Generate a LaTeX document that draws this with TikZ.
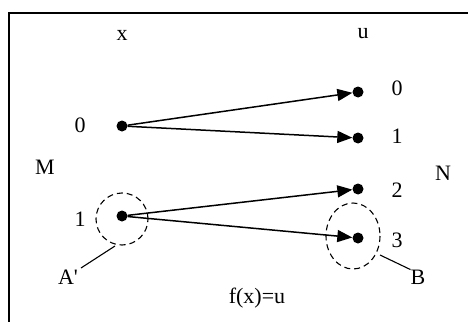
\documentclass[tikz,border=0pt]{standalone}
\usepackage{fontspec}
\setmainfont{Liberation Serif}
\usetikzlibrary{arrows.meta}
\begin{document}
\begin{tikzpicture}[x=1pt,y=-1pt,
  lbl/.style={inner sep=0pt,font=\fontsize{22}{24}\selectfont},
  pt/.style={circle,fill=black,inner sep=0pt,minimum size=11pt},
  map/.style={line width=1.5pt,-{Triangle[length=15pt,width=12pt]}},
  dsh/.style={line width=1.1pt,dash pattern=on 6pt off 4pt},
  lead/.style={line width=1.1pt}]
\useasboundingbox (0,0) rectangle (468,321);
\fill[white] (0,0) rectangle (468,321);
\draw[line width=2pt] (9,330) -- (9,13.5) -- (480,13.5);
% headers
\node[lbl] (hx) at (122,35) {x};
\node[lbl] (hu) at (363,34) {u};
\node[lbl] (lM) at (45,167) {M};
\node[lbl] (lN) at (443,173) {N};
% left points
\node[pt] (m0) at (122,126) {};
\node[pt] (m1) at (122,216) {};
\node[lbl] (t0) at (80,125) {0};
\node[lbl] (t1) at (80,219) {1};
% right points
\node[pt] (n0) at (358,92) {};
\node[pt] (n1) at (358,138) {};
\node[pt] (n2) at (358,189) {};
\node[pt] (n3) at (358,238) {};
\node[lbl] (s0) at (397,88) {0};
\node[lbl] (s1) at (397,136) {1};
\node[lbl] (s2) at (397,190) {2};
\node[lbl] (s3) at (397,240) {3};
% arrows
\draw[map] (m0) -- (n0);
\draw[map] (m0) -- (n1);
\draw[map] (m1) -- (n2);
\draw[map] (m1) -- (n3);
% sets
\node[draw,dsh,circle,minimum size=52pt] (A) at (122,219) {};
\draw[dsh] (353,236) ellipse (27 and 33);
\coordinate (Bb) at (380,255);
\coordinate (Aa) at (115,246);
\node[lbl] (lA) at (68,277) {A\textquotesingle};
\node[lbl] (lB) at (418,277) {B};
\draw[lead] (81,268) -- (Aa);
\draw[lead] (Bb) -- (lB.north west);
\node[lbl] (f) at (257,298) {f(x)=u};
\end{tikzpicture}
\end{document}
